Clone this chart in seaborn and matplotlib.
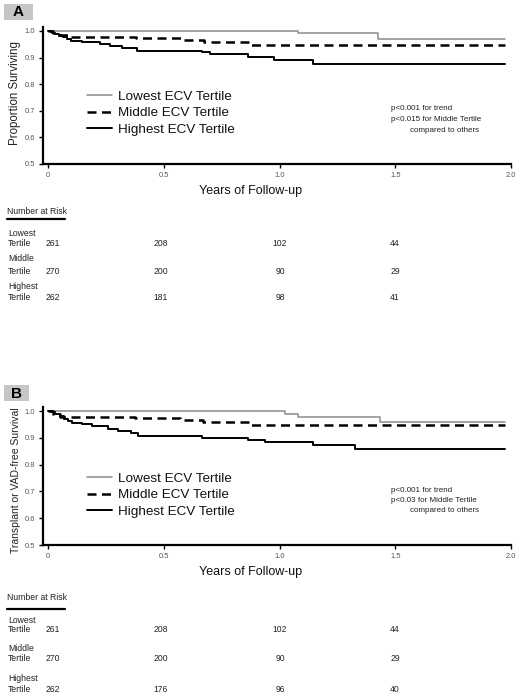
import numpy as np
import pandas as pd
import seaborn as sns
import matplotlib
matplotlib.use("Agg")
import matplotlib.pyplot as plt
from matplotlib.patches import Rectangle

# ---------------- data ----------------
groups = ["Lowest ECV Tertile", "Middle ECV Tertile", "Highest ECV Tertile"]

# Panel A: overall survival (Kaplan-Meier step points)
a_low_t = [0, 1.08, 1.425, 1.975]
a_low_s = [1.0, 0.991, 0.971, 0.971]
a_mid_t = [0, 0.02, 0.05, 0.086, 0.38, 0.575, 0.675, 0.873, 1.975]
a_mid_s = [1.0, 0.993, 0.985, 0.978, 0.972, 0.966, 0.958, 0.947, 0.947]
a_high_t = [0, 0.015, 0.03, 0.045, 0.065, 0.08, 0.10, 0.146, 0.225, 0.268, 0.318,
            0.383, 0.664, 0.70, 0.865, 0.975, 1.145, 1.975]
a_high_s = [1.0, 0.994, 0.988, 0.982, 0.976, 0.970, 0.962, 0.957, 0.951, 0.945, 0.937,
            0.926, 0.920, 0.913, 0.904, 0.890, 0.876, 0.876]

# Panel B: transplant or VAD-free survival
b_low_t = [0, 1.024, 1.08, 1.434, 1.975]
b_low_s = [1.0, 0.990, 0.979, 0.958, 0.958]
b_mid_t = [0, 0.02, 0.05, 0.376, 0.57, 0.67, 0.873, 1.975]
b_mid_s = [1.0, 0.99, 0.979, 0.974, 0.966, 0.959, 0.946, 0.946]
b_high_t = [0, 0.015, 0.03, 0.052, 0.07, 0.088, 0.102, 0.146, 0.189, 0.26, 0.304,
            0.36, 0.39, 0.664, 0.865, 0.937, 1.145, 1.326, 1.975]
b_high_s = [1.0, 0.995, 0.99, 0.98, 0.97, 0.962, 0.955, 0.95, 0.944, 0.934, 0.926,
            0.918, 0.908, 0.901, 0.893, 0.885, 0.873, 0.857, 0.857]

# number at risk
risk_times = [0, 0.5, 1.0, 1.5]
a_risk_low = [261, 208, 102, 44]
a_risk_mid = [270, 200, 90, 29]
a_risk_high = [262, 181, 98, 41]
b_risk_low = [261, 208, 102, 44]
b_risk_mid = [270, 200, 90, 29]
b_risk_high = [262, 176, 96, 40]
risk_row_labels = ["Lowest\nTertile", "Middle\nTertile", "Highest\nTertile"]

x_ticks = [0, 0.5, 1.0, 1.5, 2.0]
x_tick_labels = ["0", "0.5", "1.0", "1.5", "2.0"]
y_ticks = [0.5, 0.6, 0.7, 0.8, 0.9, 1.0]
y_tick_labels = ["0.5", "0.6", "0.7", "0.8", "0.9", "1.0"]

panel_a_ylabel = "Proportion Surviving"
panel_b_ylabel = "Transplant or VAD-free Survival"
xlabel = "Years of Follow-up"
a_ptext = ["p<0.001 for trend", "p<0.015 for Middle Tertile", "compared to others"]
b_ptext = ["p<0.001 for trend", "p<0.03 for Middle Tertile", "compared to others"]


def make_df(lo_t, lo_s, mi_t, mi_s, hi_t, hi_s):
    parts = []
    for g, t, s in zip(groups, [lo_t, mi_t, hi_t], [lo_s, mi_s, hi_s]):
        parts.append(pd.DataFrame({"group": g, "t": t, "s": s}))
    return pd.concat(parts, ignore_index=True)


df_a = make_df(a_low_t, a_low_s, a_mid_t, a_mid_s, a_high_t, a_high_s)
df_b = make_df(b_low_t, b_low_s, b_mid_t, b_mid_s, b_high_t, b_high_s)

# ---------------- style ----------------
sns.set_theme(style="ticks")
plt.rcParams["font.family"] = ["Liberation Sans", "DejaVu Sans"]

W, H = 522, 699
fig = plt.figure(figsize=(W / 100, H / 100), dpi=100)


def fx(px):
    return px / W


def fy(py):
    return 1 - py / H


palette = {groups[0]: "#8c8c8c", groups[1]: "black", groups[2]: "black"}
dashes = {groups[0]: "", groups[1]: (3.6, 2.2), groups[2]: ""}
sizes = {groups[0]: 1.1, groups[1]: 1.8, groups[2]: 1.4}

tick_col = "#555555"


def draw_panel(df, top_px, bot_px, ylabel, ylab_size, ylab_y, legend_y, ptext, ptext_y,
               letter, box):
    ax = fig.add_axes([fx(43), fy(bot_px), fx(511) - fx(43), fy(top_px) - fy(bot_px)])
    sns.lineplot(data=df, x="t", y="s", hue="group", style="group", size="group",
                 palette=palette, dashes=dashes, sizes=sizes,
                 estimator=None, sort=False, drawstyle="steps-post",
                 legend=False, ax=ax)
    ax.set_xlim(-0.022, 2.0)
    ax.set_ylim(0.5, 1.015)
    ax.set_xticks(x_ticks)
    ax.set_xticklabels(x_tick_labels)
    ax.set_yticks(y_ticks)
    ax.set_yticklabels(y_tick_labels)
    ax.tick_params(axis="both", direction="out", length=3, width=1.0,
                   labelsize=5.4, labelcolor=tick_col, color="black", pad=2.5)
    for side in ["top", "right"]:
        ax.spines[side].set_visible(False)
    for side in ["left", "bottom"]:
        ax.spines[side].set_linewidth(1.6)
        ax.spines[side].set_color("black")
    ax.spines["bottom"].set_bounds(-0.022, 2.0)
    ax.set_ylabel(ylabel, fontsize=ylab_size, color="#222222")
    ax.yaxis.set_label_coords(-0.048, ylab_y)
    ax.set_xlabel(xlabel, fontsize=9, color="#111111")
    ax.xaxis.set_label_coords(0.444, -0.15)
    ax.xaxis.label.set_verticalalignment("top")

    handles = ax.get_lines()[:3]
    leg = ax.legend(handles, groups, loc="center left",
                    bbox_to_anchor=(0.094, legend_y), frameon=False,
                    fontsize=9.7, handlelength=1.85, handletextpad=0.45,
                    labelspacing=0.32, borderpad=0, borderaxespad=0)
    for t in leg.get_texts():
        t.set_color("#111111")

    # p-value annotation
    xs = [391, 391, 410]
    for txt, x, y in zip(ptext, xs, ptext_y):
        fig.text(fx(x), fy(y), txt, fontsize=5.8, color="#222222", ha="left", va="center")

    # panel letter
    bx0, by0, bx1, by1 = box
    fig.patches.append(Rectangle((fx(bx0), fy(by1)), fx(bx1) - fx(bx0), fy(by0) - fy(by1),
                                 transform=fig.transFigure, facecolor="#c6c6c6",
                                 edgecolor="none", zorder=0))
    fig.text(fx((bx0 + bx1) / 2), fy((by0 + by1) / 2 + 0.5), letter, fontsize=11,
             fontweight="bold", ha="center", va="center", color="black")
    return ax


def draw_risk(title_y, underline_y, row_ys, risks):
    fig.text(fx(7), fy(title_y), "Number at Risk", fontsize=6.2, color="#222222",
             ha="left", va="center")
    fig.add_artist(plt.Line2D([fx(7), fx(65)], [fy(underline_y), fy(underline_y)],
                              transform=fig.transFigure, color="black", lw=1.6))
    num_x = [53, 161, 280, 395]
    for lab, (y1, y2), vals in zip(risk_row_labels, row_ys, risks):
        l1, l2 = lab.split("\n")
        fig.text(fx(8), fy(y1), l1, fontsize=6.2, color="#222222", ha="left", va="center")
        fig.text(fx(8), fy(y2), l2, fontsize=6.2, color="#222222", ha="left", va="center")
        for v, x in zip(vals, num_x):
            fig.text(fx(x), fy(y2), str(v), fontsize=6.2, color="#222222",
                     ha="center", va="center")


draw_panel(df_a, 27, 164, panel_a_ylabel, 8.3, 0.52, 0.372, a_ptext, [109, 119.5, 130],
           "A", (4, 4, 33, 20))
draw_risk(211.5, 218.5, [(234, 243.5), (258.5, 271), (286.5, 298)],
          [a_risk_low, a_risk_mid, a_risk_high])

draw_panel(df_b, 407, 545, panel_b_ylabel, 7.5, 0.47, 0.362, b_ptext, [490, 500.5, 511],
           "B", (4, 385, 29, 401))
draw_risk(598, 608.5, [(620.5, 629.5), (648.5, 658.5), (678.5, 690)],
          [b_risk_low, b_risk_mid, b_risk_high])

fig.savefig("out.png", dpi=100, facecolor="white")
